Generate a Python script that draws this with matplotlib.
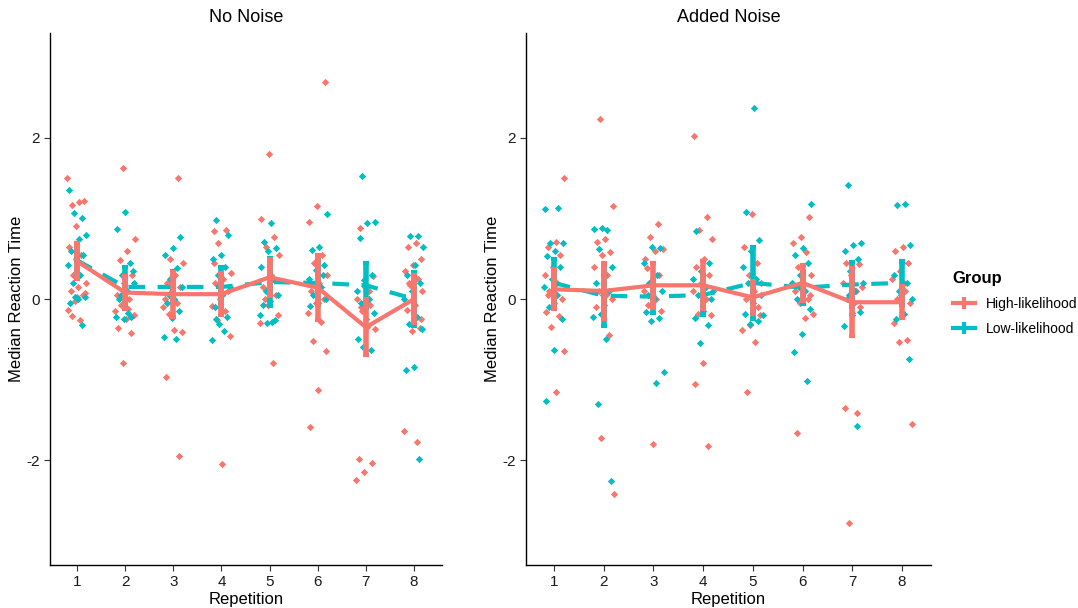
import numpy as np
import matplotlib.pyplot as plt
from matplotlib.lines import Line2D

plt.rcParams['font.family'] = ['Liberation Sans', 'DejaVu Sans']
plt.rcParams['axes.unicode_minus'] = False

reps = [1, 2, 3, 4, 5, 6, 7, 8]
panel_titles = ['No Noise', 'Added Noise']
groups = ['High-likelihood', 'Low-likelihood']
col_high = '#F8766D'
col_low = '#00BFC4'

# individual medians per repetition
nn_high_pts = [
    [1.5, 1.2, 1.17, 1.22, 0.9, 0.65, 0.55, 0.3, 0.2, 0.15, 0.1, 0.05, -0.02, -0.14, -0.26, -0.21, 0.08, 0.02],
    [1.62, 0.74, 0.6, 0.48, 0.3, 0.2, 0.05, 0.0, -0.08, -0.2, -0.25, -0.36, -0.42, -0.79, -0.15, -0.12],
    [1.5, 0.5, 0.45, 0.3, 0.2, 0.15, 0.1, 0.0, -0.05, -0.18, -0.41, -0.38, -0.97, -1.95, 0.05, -0.1],
    [0.84, 0.86, 0.69, 0.32, 0.25, 0.2, 0.1, 0.0, -0.09, -0.15, -0.26, -0.46, -2.05, 0.45],
    [1.8, 0.99, 0.77, 0.65, 0.55, 0.3, 0.15, 0.05, -0.08, -0.3, -0.79, 0.0, -0.2],
    [2.69, 1.15, 0.95, 0.55, 0.45, 0.3, 0.2, 0.1, 0.0, -0.05, -0.17, -0.29, -0.52, -0.64, -1.13, -1.59],
    [0.88, 0.28, 0.15, 0.0, -0.08, -0.15, -0.37, -0.35, -1.99, -2.04, -2.15, -2.25, 0.1, -0.1],
    [0.7, 0.65, 0.5, 0.42, 0.35, 0.25, 0.17, 0.1, -0.08, -0.14, -0.36, -0.4, -1.64, -1.77, 0.2, -0.25],
]
nn_low_pts = [
    [1.35, 1.0, 1.07, 0.8, 0.75, 0.6, 0.55, 0.5, 0.42, 0.3, 0.2, 0.03, 0.0, -0.05, -0.32, 0.02],
    [1.08, 0.87, 0.45, 0.3, 0.2, 0.1, 0.0, -0.22, -0.25, -0.22, -0.17, 0.05, 0.35],
    [0.77, 0.63, 0.55, 0.38, 0.25, 0.15, 0.0, -0.05, -0.15, -0.24, -0.47, -0.49, 0.05],
    [0.98, 0.8, 0.55, 0.5, 0.4, 0.3, 0.15, 0.05, -0.1, -0.22, -0.31, -0.51, -0.4, -0.25],
    [0.94, 0.71, 0.63, 0.6, 0.4, 0.25, 0.1, 0.05, -0.03, -0.08, -0.26, -0.3, -0.2, -0.28],
    [1.06, 0.64, 0.61, 0.42, 0.36, 0.25, 0.15, 0.05, 0.0, -0.05, -0.09, 0.3],
    [1.53, 0.96, 0.94, 0.76, 0.3, 0.23, 0.1, 0.0, -0.05, -0.17, -0.25, -0.5, -0.63, -0.6],
    [0.78, 0.78, 0.65, 0.42, 0.3, 0.2, 0.1, 0.0, -0.22, -0.31, -0.37, -0.84, -0.88, -1.98],
]
an_high_pts = [
    [1.5, 0.71, 0.65, 0.55, 0.4, 0.3, 0.2, 0.1, 0.0, -0.05, -0.16, -0.21, -0.35, -0.64, -1.15, 0.05],
    [2.23, 1.15, 0.75, 0.71, 0.58, 0.55, 0.4, 0.3, 0.1, 0.0, -0.08, -0.1, -0.45, -1.73, -2.42, 0.05],
    [0.93, 0.77, 0.62, 0.6, 0.38, 0.3, 0.2, 0.1, 0.0, -0.08, -0.15, -1.8, 0.5],
    [2.02, 1.02, 0.86, 0.74, 0.5, 0.4, 0.3, 0.2, 0.1, 0.0, -0.18, -0.2, -0.79, -1.06, -1.82],
    [1.06, 0.64, 0.45, 0.3, 0.2, 0.1, 0.0, -0.1, -0.32, -0.39, -0.53, -1.15, -0.2],
    [1.02, 0.77, 0.69, 0.58, 0.4, 0.3, 0.2, 0.1, 0.0, -0.05, -0.18, -0.23, -1.66, 0.05],
    [0.45, 0.43, 0.3, 0.2, 0.1, 0.0, -0.1, -0.17, -1.35, -1.41, -2.78, 0.15, -0.05],
    [0.64, 0.6, 0.45, 0.35, 0.25, 0.1, 0.0, -0.05, -0.16, -0.3, -0.51, -0.53, -1.55, 0.2],
]
an_low_pts = [
    [1.12, 1.13, 0.7, 0.7, 0.6, 0.53, 0.4, 0.25, 0.15, 0.05, -0.1, -0.25, -0.63, -1.27],
    [0.88, 0.87, 0.86, 0.62, 0.4, 0.3, 0.2, 0.1, -0.19, -0.22, -0.5, -1.3, -2.26, 0.05],
    [0.63, 0.64, 0.45, 0.3, 0.2, 0.1, 0.0, -0.16, -0.24, -0.27, -0.9, -1.04, 0.05],
    [0.84, 0.45, 0.35, 0.25, 0.15, 0.05, 0.0, -0.15, -0.23, -0.32, -0.55, 0.1],
    [2.37, 1.08, 0.73, 0.6, 0.4, 0.25, 0.2, 0.05, -0.05, -0.19, -0.27, -0.31, -0.2],
    [1.18, 0.63, 0.55, 0.45, 0.3, 0.2, 0.1, 0.0, -0.12, -0.43, -0.66, -1.02, 0.15],
    [1.42, 0.69, 0.67, 0.6, 0.5, 0.35, 0.2, 0.1, 0.0, -0.16, -0.2, -0.33, -1.58, 0.05],
    [1.18, 1.17, 0.67, 0.45, 0.3, 0.2, 0.1, 0.0, -0.19, -0.25, -0.75, 0.05],
]

# group means and error bar half-widths
nn_high_mean = [0.47, 0.08, 0.06, 0.06, 0.27, 0.14, -0.35, 0.0]
nn_high_err = [0.22, 0.2, 0.28, 0.26, 0.23, 0.4, 0.35, 0.3]
nn_low_mean = [0.48, 0.15, 0.15, 0.15, 0.21, 0.2, 0.17, 0.0]
nn_low_err = [0.22, 0.25, 0.2, 0.25, 0.3, 0.28, 0.28, 0.34]
an_high_mean = [0.12, 0.1, 0.17, 0.17, 0.02, 0.2, -0.04, -0.04]
an_high_err = [0.25, 0.35, 0.28, 0.3, 0.2, 0.22, 0.42, 0.2]
an_low_mean = [0.2, 0.04, 0.03, 0.05, 0.2, 0.14, 0.18, 0.2]
an_low_err = [0.3, 0.38, 0.2, 0.25, 0.45, 0.2, 0.28, 0.27]


def jitter(n, k):
    # deterministic spread, like geom_jitter
    return ((np.arange(n) * 0.618034 + k * 0.37) % 1 - 0.5) * 0.42


fig = plt.figure(figsize=(10.78, 6.08), dpi=100)
ax1 = fig.add_axes([0.0464, 0.0707, 0.3636, 0.875])
ax2 = fig.add_axes([0.488, 0.0707, 0.3756, 0.875])

panels = [
    (ax1, nn_high_pts, nn_low_pts, nn_high_mean, nn_high_err, nn_low_mean, nn_low_err),
    (ax2, an_high_pts, an_low_pts, an_high_mean, an_high_err, an_low_mean, an_low_err),
]

for p, (ax, hp, lp, hm, he, lm, le) in enumerate(panels):
    for i, r in enumerate(reps):
        ax.scatter(r + jitter(len(hp[i]), i + p * 8), hp[i], s=14, color=col_high,
                   marker='D', linewidths=0, zorder=2)
        ax.scatter(r + jitter(len(lp[i]), i + p * 8 + 3), lp[i], s=14, color=col_low,
                   marker='D', linewidths=0, zorder=2)
    ax.errorbar(reps, lm, yerr=le, color=col_low, lw=0, elinewidth=4,
                capsize=2.5, capthick=3, zorder=3)
    ax.plot(reps, lm, color=col_low, lw=3, ls=(0, (4, 3)), zorder=3)
    ax.errorbar(reps, hm, yerr=he, color=col_high, lw=0, elinewidth=4,
                capsize=2.5, capthick=3, zorder=4)
    ax.plot(reps, hm, color=col_high, lw=3, zorder=4, solid_capstyle='round')

    ax.set_xlim(0.44, 8.58)
    ax.set_ylim(-3.3, 3.3)
    ax.set_xticks(reps)
    ax.set_yticks([-2, 0, 2])
    ax.tick_params(labelsize=11, length=4, width=0.8, colors='#333333', labelcolor='#1a1a1a')
    for s in ['top', 'right']:
        ax.spines[s].set_visible(False)
    for s in ['left', 'bottom']:
        ax.spines[s].set_color('black')
        ax.spines[s].set_linewidth(1.0)
    ax.set_title(panel_titles[p], fontsize=13, pad=8)
    ax.set_xlabel('Repetition', fontsize=12, labelpad=2)
    ax.set_ylabel('Median Reaction Time', fontsize=12)

# put the y titles where the reference has them (about 26 px left of the spine)
ax1.yaxis.set_label_coords(-26 / 392, 0.5)
ax2.yaxis.set_label_coords(-26 / 405, 0.5)

handles = [
    Line2D([], [], color=col_high, lw=3, marker='|', markersize=8, mew=3),
    Line2D([], [], color=col_low, lw=3, marker='|', markersize=8, mew=3),
]
leg = fig.legend(handles, groups, title='Group', loc='upper left',
                 bbox_to_anchor=(0.872, 0.575), frameon=False, fontsize=10,
                 handlelength=1.6, labelspacing=0.8, alignment='left')
leg.get_title().set_fontweight('bold')
leg.get_title().set_fontsize(12)

fig.savefig('out.png', dpi=100)
